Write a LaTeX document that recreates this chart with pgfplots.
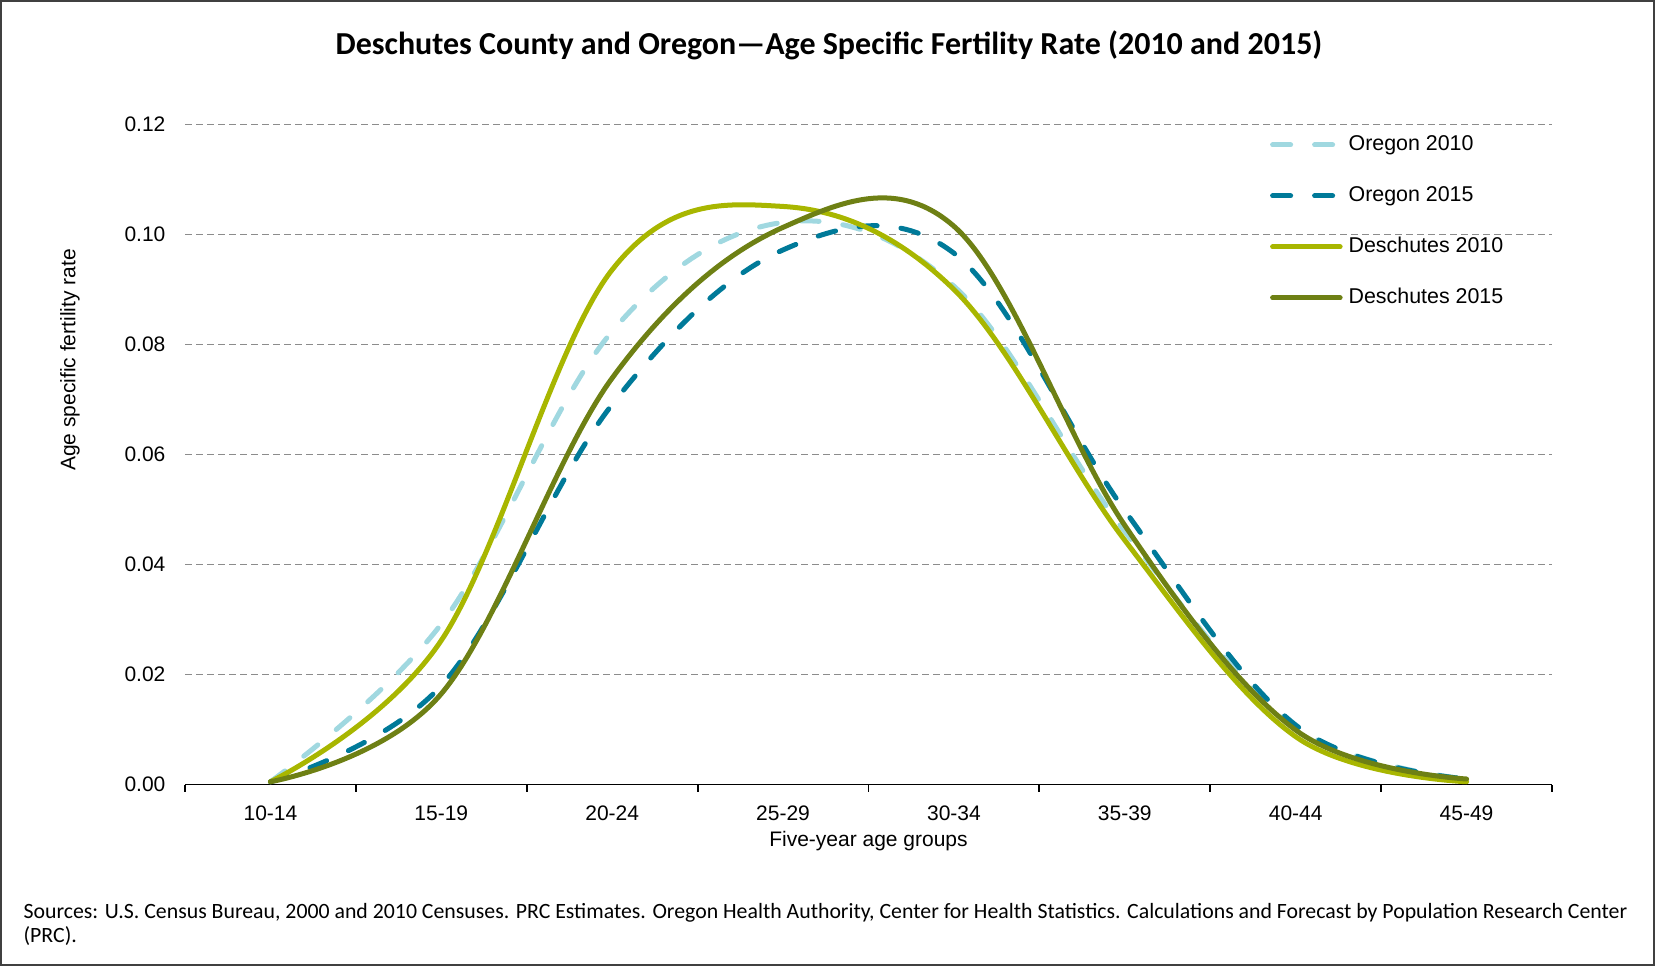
\documentclass[border=0pt]{standalone}
\usepackage{pgfplots}
\pgfplotsset{compat=1.18}
\usepackage{fontspec}
\setmainfont{Liberation Sans}
\newfontfamily\calibri{Carlito}
\definecolor{or10}{RGB}{160,216,224}
\definecolor{or15}{RGB}{0,122,153}
\definecolor{de10}{RGB}{168,182,0}
\definecolor{de15}{RGB}{110,128,20}
\definecolor{gridgray}{RGB}{140,140,140}
\begin{document}
\begin{tikzpicture}[x=1pt,y=1pt]
\useasboundingbox (0,0) rectangle (827.5,483);
\draw[line width=0.8pt, black!75] (0.5,0.5) rectangle (827,482.5);
\node[font=\calibri\bfseries\fontsize{16}{19}\selectfont] at (414.5,460.3) {Deschutes County and Oregon—Age Specific Fertility Rate (2010 and 2015)};
\node[anchor=base west, inner sep=0pt, font=\calibri\fontsize{10.9}{13}\selectfont] at (11.6,24.0) {Sources: U.S. Census Bureau, 2000 and 2010 Censuses. PRC Estimates. Oregon Health Authority, Center for Health Statistics. Calculations and Forecast by Population Research Center};
\node[anchor=base west, inner sep=0pt, font=\calibri\fontsize{10.9}{13}\selectfont] at (11.6,11.9) {(PRC).};
\begin{axis}[
  at={(92.5pt,90.75pt)}, anchor=south west, scale only axis,
  width=683.5pt, height=330pt,
  xmin=-0.5, xmax=7.5, ymin=0, ymax=0.12,
  axis lines*=left,
  y axis line style={draw=none},
  x axis line style={black, line width=0.9pt},
  tick align=outside,
  xtick={0,1,2,3,4,5,6,7},
  xticklabels={10-14,15-19,20-24,25-29,30-34,35-39,40-44,45-49},
  minor xtick={-0.5,0.5,1.5,2.5,3.5,4.5,5.5,6.5,7.5},
  major x tick style={draw=none},
  minor x tick style={black, line width=0.9pt},
  minor tick length=3.5pt,
  ytick={0,0.02,0.04,0.06,0.08,0.1,0.12},
  ytick style={draw=none},
  ymajorgrids,
  major grid style={gridgray, line width=0.75pt, dash pattern=on 3.5pt off 2pt},
  yticklabel style={/pgf/number format/fixed, /pgf/number format/fixed zerofill, /pgf/number format/precision=2},
  /pgf/number format/assume math mode=true,
  tick label style={font=\fontsize{10.5}{12}\selectfont, black},
  every x tick label/.append style={yshift=-3pt},
  every y tick label/.append style={xshift=-2pt},
  xlabel={Five-year age groups},
  ylabel={Age specific fertility rate},
  every axis x label/.style={at={(axis description cs:0.5,-0.0856)}, anchor=center, font=\fontsize{10.5}{12}\selectfont},
  every axis y label/.style={at={(axis description cs:-0.0841,0.643)}, rotate=90, anchor=center, font=\fontsize{10.5}{12}\selectfont},
  legend cell align=left,
  legend image code/.code={\draw[#1] (1.25pt,0pt) -- (35pt,0pt);},
  legend style={at={(0.7935,0.984)}, anchor=north west, draw=none, fill=none,
    font=\fontsize{10.7}{12}\selectfont, row sep=16pt, column sep=3pt, inner sep=0pt,
    nodes={inner sep=0pt, text height=7.5pt, text depth=2pt}},
]
\addplot[smooth, tension=0.6, or10, line width=2.5pt, line cap=round, dash pattern=on 9pt off 12pt]
  coordinates {(0,0.0005) (1,0.0292) (2,0.0824) (3,0.1022) (4,0.0906) (5,0.0460) (6,0.0105) (7,0.0010)};
\addlegendentry{Oregon 2010}
\addplot[smooth, tension=0.6, or15, line width=2.5pt, line cap=round, dash pattern=on 9pt off 12pt]
  coordinates {(0,0.0005) (1,0.0180) (2,0.0691) (3,0.0972) (4,0.0966) (5,0.0498) (6,0.0108) (7,0.0010)};
\addlegendentry{Oregon 2015}
\addplot[smooth, tension=0.6, de10, line width=2.5pt, line cap=round]
  coordinates {(0,0.0005) (1,0.0262) (2,0.0936) (3,0.1051) (4,0.0900) (5,0.0444) (6,0.0087) (7,0.0005)};
\addlegendentry{Deschutes 2010}
\addplot[smooth, tension=0.6, de15, line width=2.5pt, line cap=round]
  coordinates {(0,0.0005) (1,0.0165) (2,0.0739) (3,0.1013) (4,0.1015) (5,0.0471) (6,0.0099) (7,0.0010)};
\addlegendentry{Deschutes 2015}
\end{axis}
\end{tikzpicture}
\end{document}
